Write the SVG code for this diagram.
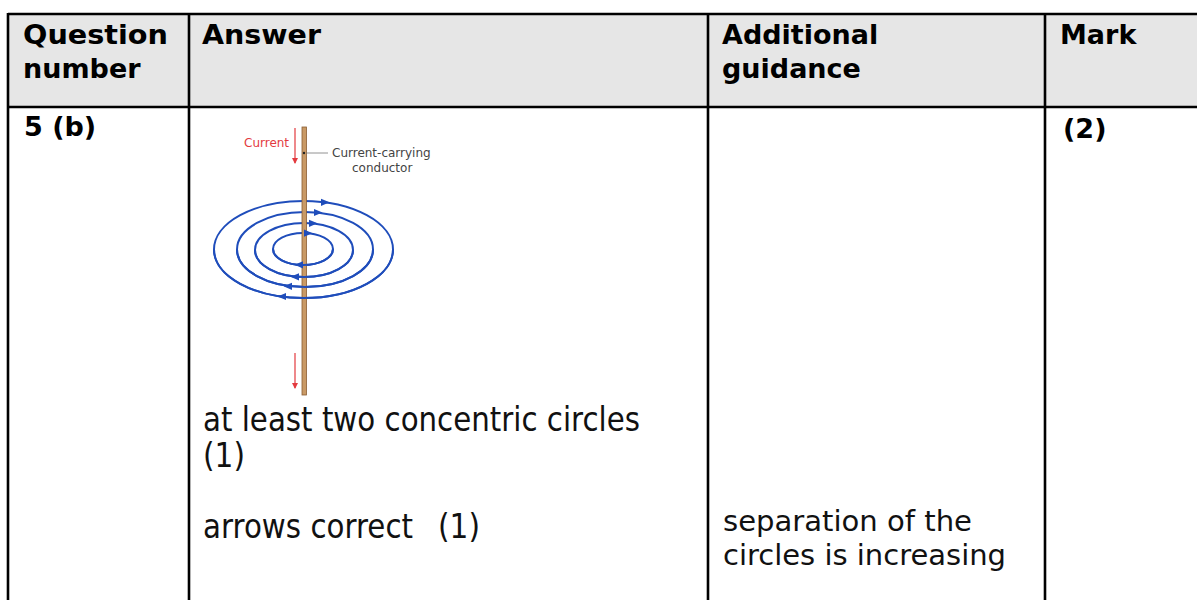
<svg xmlns="http://www.w3.org/2000/svg" xmlns:xlink="http://www.w3.org/1999/xlink" width="1197" height="600" viewBox="0 0 1197 600">
<style>
.hdr{font-family:"DejaVu Sans","Liberation Sans",sans-serif;font-weight:bold;font-size:27px;fill:#000}
.ans{font-family:"DejaVu Sans","Liberation Sans",sans-serif;font-size:33px;fill:#111}
.gd{font-family:"DejaVu Sans","Liberation Sans",sans-serif;font-size:29px;fill:#111}
.grid{stroke:#000;stroke-width:2.6;fill:none}
.field{fill:none;stroke:#1f4dbb;stroke-width:2}
.lbl{font-family:"DejaVu Sans","Liberation Sans",sans-serif;font-size:12px;fill:#444}
.red{font-family:"DejaVu Sans","Liberation Sans",sans-serif;font-size:12px;fill:#e33a3f}
</style>
<defs>
<path id="ah" d="M4.5,0 L-4,-3.6 L-4,3.6 Z" fill="#1f4dbb"/>
<marker id="redhead" markerWidth="6" markerHeight="6" refX="5" refY="3" orient="auto" markerUnits="userSpaceOnUse">
<path d="M0,0 L6,3 L0,6 Z" fill="#e33a3f"/>
</marker>
</defs>
<rect width="1197" height="600" fill="#fff"/>
<g id="table">
<rect x="8" y="14" width="1195" height="93" fill="#e6e6e6"/>
<line class="grid" x1="8" y1="14" x2="1197" y2="14"/>
<line class="grid" x1="8" y1="107" x2="1197" y2="107"/>
<line class="grid" x1="8" y1="13" x2="8" y2="600"/>
<line class="grid" x1="189" y1="13" x2="189" y2="600"/>
<line class="grid" x1="708" y1="13" x2="708" y2="600"/>
<line class="grid" x1="1045" y1="13" x2="1045" y2="600"/>
</g>
<g id="header">
<text class="hdr" x="23" y="44" textLength="145" lengthAdjust="spacingAndGlyphs">Question</text>
<text class="hdr" x="23" y="78">number</text>
<text class="hdr" x="202" y="44" textLength="119" lengthAdjust="spacingAndGlyphs">Answer</text>
<text class="hdr" x="722" y="44">Additional</text>
<text class="hdr" x="722" y="78">guidance</text>
<text class="hdr" x="1060" y="44">Mark</text>
</g>
<g id="row">
<text class="hdr" x="24" y="136">5 (b)</text>
<text class="hdr" x="1063" y="138">(2)</text>
<text class="ans" x="203" y="431" textLength="437" lengthAdjust="spacingAndGlyphs">at least two concentric circles</text>
<text class="ans" x="203" y="467" textLength="42" lengthAdjust="spacingAndGlyphs">(1)</text>
<text class="ans" x="203" y="538" textLength="210" lengthAdjust="spacingAndGlyphs">arrows correct</text>
<text class="ans" x="438" y="538" textLength="42" lengthAdjust="spacingAndGlyphs">(1)</text>
<text class="gd" x="723" y="531" textLength="249" lengthAdjust="spacingAndGlyphs">separation of the</text>
<text class="gd" x="723" y="565" textLength="283" lengthAdjust="spacingAndGlyphs">circles is increasing</text>
</g>
<g id="figure">
<g id="field-back">
<ellipse class="field" cx="303.5" cy="249.5" rx="89.5" ry="48.5"/>
<ellipse class="field" cx="305" cy="249.5" rx="68" ry="37.5"/>
<ellipse class="field" cx="304" cy="250" rx="49" ry="27"/>
<ellipse class="field" cx="303" cy="249" rx="30" ry="16"/>
</g>
<g id="conductor">
<rect x="302" y="127" width="4.5" height="268" fill="#c99a66" stroke="#8b5e33" stroke-width="0.8"/>
<circle cx="304" cy="153" r="1.2" fill="#222"/>
</g>
<g id="field-front">
<path class="field" d="M214,249.5 A89.5,48.5 0 0 0 393,249.5"/>
<path class="field" d="M237,249.5 A68,37.5 0 0 0 373,249.5"/>
<path class="field" d="M255,250 A49,27 0 0 0 353,250"/>
<path class="field" d="M273,249 A30,16 0 0 0 333,249"/>
</g>
<g id="field-arrows">
<use xlink:href="#ah" transform="translate(325,202.3)"/>
<use xlink:href="#ah" transform="translate(318,212.5)"/>
<use xlink:href="#ah" transform="translate(313,223.3)"/>
<use xlink:href="#ah" transform="translate(308,233.2)"/>
<use xlink:href="#ah" transform="translate(282,296.5) rotate(180)"/>
<use xlink:href="#ah" transform="translate(288,286.3) rotate(180)"/>
<use xlink:href="#ah" transform="translate(295,276.8) rotate(180)"/>
<use xlink:href="#ah" transform="translate(299,264.8) rotate(180)"/>
</g>
<g id="labels">
<text class="red" x="244" y="147">Current</text>
<line x1="295" y1="128" x2="295" y2="163" stroke="#e33a3f" stroke-width="1.2" marker-end="url(#redhead)"/>
<line x1="295" y1="353" x2="295" y2="388" stroke="#e33a3f" stroke-width="1.2" marker-end="url(#redhead)"/>
<line x1="306" y1="153" x2="328" y2="153" stroke="#777" stroke-width="0.8"/>
<text class="lbl" x="332" y="157">Current-carrying</text>
<text class="lbl" x="352" y="172">conductor</text>
</g>
</g>
</svg>
